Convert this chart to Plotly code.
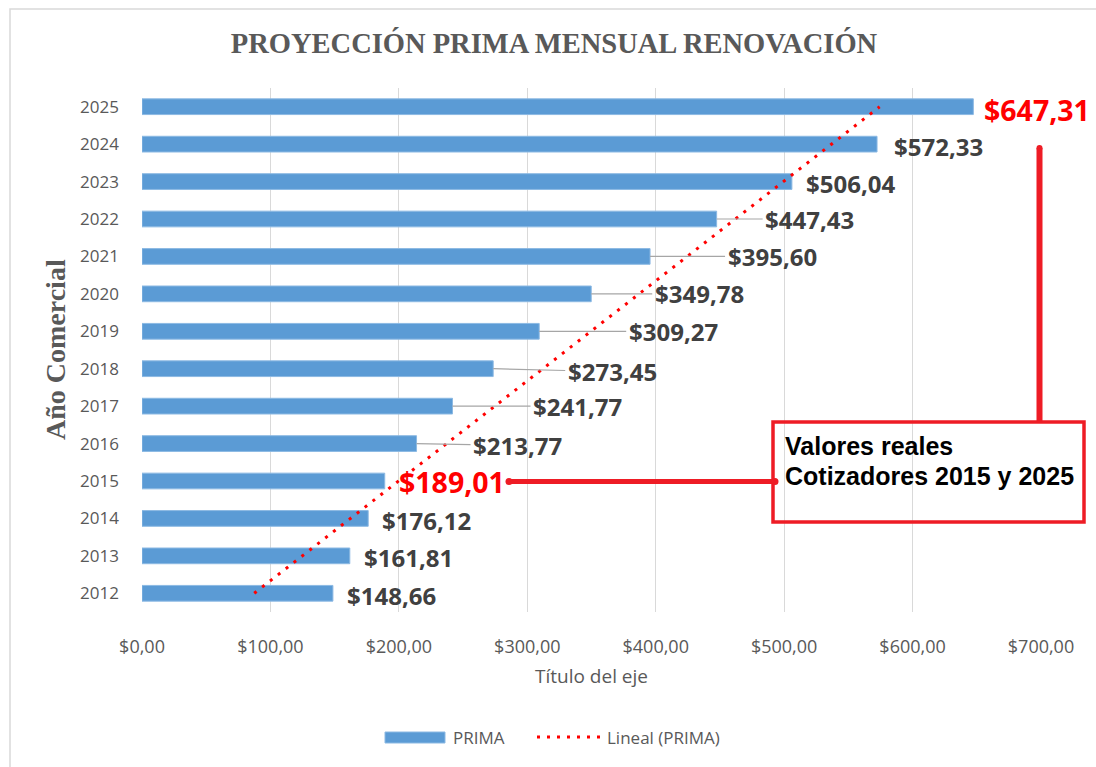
import numpy as np
import plotly.graph_objects as go

# ---------------- data ----------------
years = [2012, 2013, 2014, 2015, 2016, 2017, 2018, 2019, 2020, 2021, 2022, 2023, 2024, 2025]
prima = [148.66, 161.81, 176.12, 189.01, 213.77, 241.77, 273.45, 309.27,
         349.78, 395.60, 447.43, 506.04, 572.33, 647.31]
label_text = ["$148,66", "$161,81", "$176,12", "$189,01", "$213,77", "$241,77", "$273,45",
              "$309,27", "$349,78", "$395,60", "$447,43", "$506,04", "$572,33", "$647,31"]
highlight_years = [2015, 2025]
x_tickvals = [0, 100, 200, 300, 400, 500, 600, 700]
x_ticktext = ["$0,00", "$100,00", "$200,00", "$300,00", "$400,00", "$500,00", "$600,00", "$700,00"]

# linear trendline (Excel "Lineal") fitted on the series
idx = np.arange(len(prima))
slope, intercept = np.polyfit(idx, prima, 1)
trend = intercept + slope * idx

# ---------------- geometry helpers ----------------
W, H = 1096, 767
L, R, T, B = 142, 1041, 88, 612
def px(x):
    return (x - L) / (R - L)
def py(y):
    return (B - y) / (B - T)

BAR = "#5B9BD5"
RED = "#FF0000"
RED2 = "#EE1C25"
GRAY_TXT = "#595959"
LBL = "#404040"
SANS = "Open Sans"
SERIF = "Liberation Serif"

fig = go.Figure()
fig.add_trace(go.Bar(
    x=prima, y=years, orientation="h", width=0.42, name="PRIMA",
    marker=dict(color=BAR, line=dict(color="#8CB9E3", width=1)),
    showlegend=False, hoverinfo="x+y"))
fig.add_trace(go.Scatter(
    x=trend, y=years, mode="lines", name="Lineal (PRIMA)",
    line=dict(color=RED, width=3, dash="3px,7px"), showlegend=False))

# data labels: (offset in px from bar end to label's left edge, leader?, dy)
label_offsets = {2012: (15, False, 2), 2013: (15, False, 2), 2014: (15, False, 2),
                 2015: (15, False, 1), 2016: (56, True, 2), 2017: (80, True, 0),
                 2018: (74, True, 3), 2019: (89, True, 0), 2020: (63, True, 0),
                 2021: (77, True, 0), 2022: (48, True, 0), 2023: (15, False, 2),
                 2024: (18, False, 2), 2025: (12, False, 3)}

annotations = []
for yr, v, t in zip(years, prima, label_text):
    off, leader, dy = label_offsets[yr]
    red = yr in highlight_years
    fnt = dict(family=SANS, size=28.5 if red else 24, color=RED if red else LBL)
    txt = "<b>" + t + "</b>"
    if leader:
        half = 45
        annotations.append(dict(x=v, y=yr, xref="x", yref="y", text=txt, font=fnt,
                                showarrow=True, arrowhead=0, arrowwidth=1.2,
                                arrowcolor="#A6A6A6", ax=off + half, ay=dy,
                                standoff=0, borderpad=2))
    else:
        annotations.append(dict(x=v, y=yr, xref="x", yref="y", text=txt, font=fnt,
                                showarrow=False, xanchor="left", yanchor="middle",
                                xshift=off - 3, yshift=-dy))

# callout text
callout_font = dict(family="Liberation Sans", size=25, color="#000000")
annotations.append(dict(x=px(783), y=py(446), xref="paper", yref="paper",
                        text="<b>Valores reales</b>", showarrow=False,
                        xanchor="left", yanchor="middle", font=callout_font))
annotations.append(dict(x=px(783), y=py(476), xref="paper", yref="paper",
                        text="<b>Cotizadores 2015 y 2025</b>", showarrow=False,
                        xanchor="left", yanchor="middle", font=callout_font))
# y-axis title
annotations.append(dict(x=px(55), y=py(350), xref="paper", yref="paper",
                        text="<b>Año Comercial</b>", showarrow=False, textangle=-90,
                        xanchor="center", yanchor="middle",
                        font=dict(family=SERIF, size=28, color=GRAY_TXT)))
# x-axis title
annotations.append(dict(x=px(591), y=py(676), xref="paper", yref="paper",
                        text="Título del eje", showarrow=False,
                        xanchor="center", yanchor="middle",
                        font=dict(family=SANS, size=19, color=GRAY_TXT)))
# custom legend texts
annotations.append(dict(x=px(451), y=py(737), xref="paper", yref="paper",
                        text="PRIMA", showarrow=False, xanchor="left", yanchor="middle",
                        font=dict(family=SANS, size=17, color=GRAY_TXT)))
annotations.append(dict(x=px(605), y=py(737), xref="paper", yref="paper",
                        text="Lineal (PRIMA)", showarrow=False, xanchor="left", yanchor="middle",
                        font=dict(family=SANS, size=17, color=GRAY_TXT)))

shapes = [
    # chart border
    dict(type="rect", xref="paper", yref="paper", x0=px(10), x1=px(1200), y0=py(9), y1=py(900),
         line=dict(color="#D9D9D9", width=1.5), layer="below"),
    # callout box
    dict(type="rect", xref="paper", yref="paper", x0=px(773), x1=px(1084), y0=py(422), y1=py(522),
         line=dict(color=RED2, width=3.5)),
    # vertical connector (to 2025 label)
    dict(type="rect", xref="paper", yref="paper", x0=px(1036.5), x1=px(1042.5),
         y0=py(148), y1=py(421), fillcolor=RED2, line=dict(width=0)),
    dict(type="circle", xref="paper", yref="paper", x0=px(1036.5), x1=px(1042.5),
         y0=py(145), y1=py(151), fillcolor=RED2, line=dict(width=0)),
    # horizontal connector (from 2015 label)
    dict(type="rect", xref="paper", yref="paper", x0=px(509), x1=px(775),
         y0=py(479), y1=py(484), fillcolor=RED2, line=dict(width=0)),
    dict(type="circle", xref="paper", yref="paper", x0=px(505.5), x1=px(512.5),
         y0=py(478), y1=py(485), fillcolor=RED2, line=dict(width=0)),
    dict(type="circle", xref="paper", yref="paper", x0=px(771.5), x1=px(778.5),
         y0=py(478), y1=py(485), fillcolor=RED2, line=dict(width=0)),
    # custom legend symbols
    dict(type="rect", xref="paper", yref="paper", x0=px(385), x1=px(445), y0=py(732), y1=py(743),
         fillcolor=BAR, line=dict(color="#8CB9E3", width=1)),
    dict(type="line", xref="paper", yref="paper", x0=px(537), x1=px(600), y0=py(737), y1=py(737),
         line=dict(color=RED, width=3, dash="3px,7px")),
]

fig.update_layout(
    width=W, height=H,
    margin=dict(l=L, r=W - R, t=T, b=H - B, autoexpand=False),
    paper_bgcolor="white", plot_bgcolor="white",
    title=dict(text="<b>PROYECCIÓN PRIMA MENSUAL RENOVACIÓN</b>", xref="container",
               x=554 / W, xanchor="center", y=1 - 43 / H, yanchor="middle",
               font=dict(family=SERIF, size=28.5, color=GRAY_TXT)),
    xaxis=dict(range=[0, 700], tickvals=x_tickvals, ticktext=x_ticktext,
               showgrid=True, gridcolor="#D9D9D9", gridwidth=1, zeroline=False,
               showline=False, ticks="", ticklabelstandoff=22,
               tickfont=dict(family=SANS, size=18, color=GRAY_TXT)),
    yaxis=dict(range=[2011.5, 2025.5], tickvals=years, ticktext=[str(y) for y in years],
               showgrid=False, zeroline=False, showline=False, ticks="",
               ticklabelstandoff=22,
               tickfont=dict(family=SANS, size=17, color=GRAY_TXT)),
    annotations=annotations, shapes=shapes, showlegend=False,
)

fig.write_html("out.html", config={"displayModeBar": False},
               post_script="document.body.style.margin='0';document.body.style.overflow='hidden';")
